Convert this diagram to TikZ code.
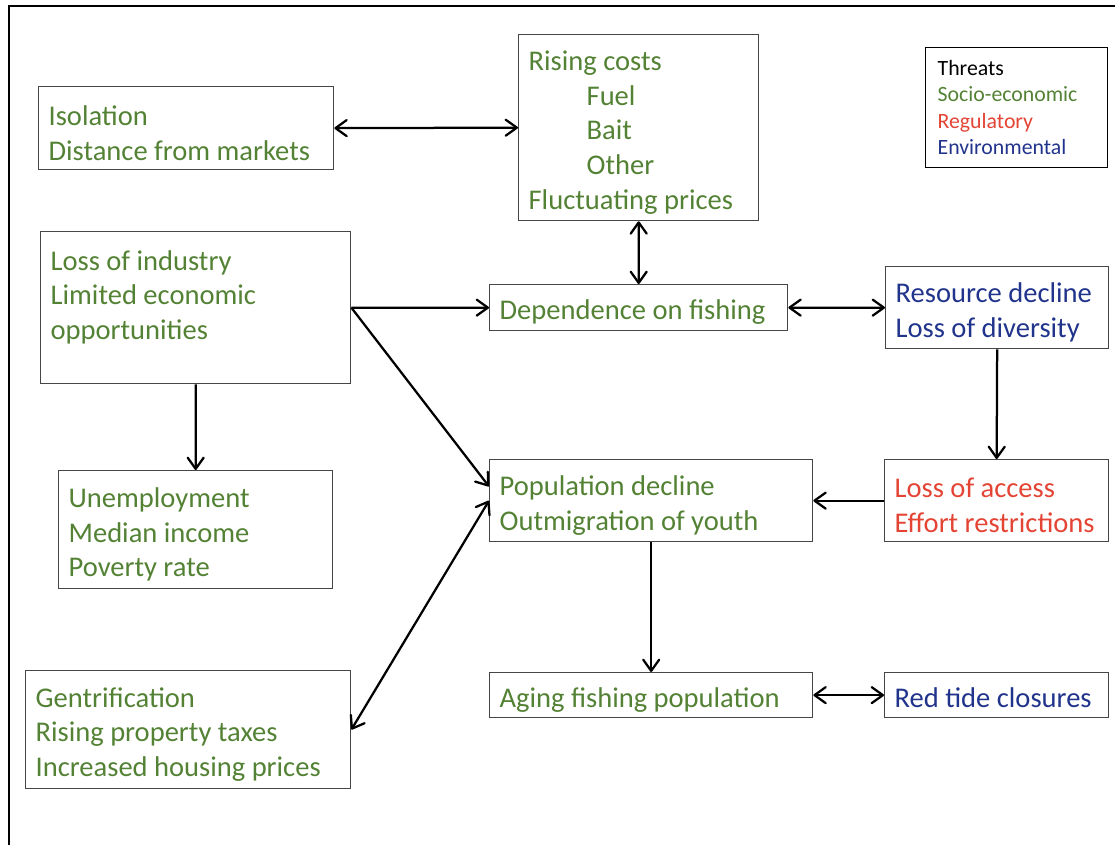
\documentclass[tikz,border=0pt]{standalone}
\usepackage{fontspec}
\setmainfont{Carlito}
\usetikzlibrary{arrows.meta}
\definecolor{socio}{RGB}{84,130,53}
\definecolor{regul}{RGB}{227,68,52}
\definecolor{envir}{RGB}{33,52,140}
\definecolor{boxgray}{RGB}{70,70,70}
\newcommand{\indentcost}{\hspace*{1.45cm}}
\tikzset{
  box/.style={draw=boxgray, line width=0.9pt, anchor=north west,
    align=flush left, inner xsep=0.25cm, inner ysep=0.1cm, text=socio,
    font=\fontsize{20.3}{24.8}\selectfont,
    execute at begin node={\rule{0pt}{21pt}}},
  keybox/.style={draw=black, line width=0.9pt, anchor=north west,
    align=flush left, inner xsep=0.3cm, inner ysep=0.1cm, text=black,
    font=\fontsize{15.5}{18.9}\selectfont},
  barb/.tip={Straight Barb[length=2.8mm,width=4mm,round]},
  link/.style={line width=1.6pt, -barb},
  twoway/.style={line width=1.6pt, barb-barb}
}

\begin{document}
\begin{tikzpicture}[x=0.025cm, y=-0.025cm]
  \useasboundingbox (0,0) rectangle (1115,845);
  \draw [line width=2pt] (9,845) -- (9,6) -- (1115,6);

  \node [box, text width=6.875cm, minimum height=2.075cm] (isol) at (38,86)
    {Isolation\\Distance from markets};
  \node [box, text width=5.5cm, minimum height=4.65cm] (costs) at (518,34)
    {Rising costs\\\indentcost Fuel\\\indentcost Bait\\\indentcost Other\\Fluctuating prices};
  \node [box, text width=7.25cm, minimum height=3.8cm] (loss) at (40,231)
    {Loss of industry\\Limited economic\\opportunities\\~};
  \node [box, text width=6.95cm, minimum height=1.15cm] (dep) at (489,284)
    {Dependence on fishing};
  \node [box, text=envir, text width=5.075cm, minimum height=2.05cm] (res) at (885,266)
    {Resource decline\\Loss of diversity};
  \node [box, text width=6.35cm, minimum height=2.95cm] (unemp) at (58,470)
    {Unemployment\\Median income\\Poverty rate};
  \node [box, text width=7.575cm, minimum height=2.05cm] (pop) at (489,459)
    {Population decline\\Outmigration of youth};
  \node [box, text=regul, text width=5.1cm, minimum height=2.05cm] (acc) at (884,459)
    {Loss of access\\Effort restrictions};
  \node [box, text width=7.625cm, minimum height=2.95cm] (gent) at (25,670)
    {Gentrification\\Rising property taxes\\Increased housing prices};
  \node [box, text width=7.575cm, minimum height=1.125cm] (aging) at (489,672)
    {Aging fishing population};
  \node [box, text=envir, text width=5.1cm, minimum height=1.125cm] (redt) at (884,672)
    {Red tide closures\vphantom{g}};
  \node [keybox, text width=3.95cm, minimum height=3.0cm] (key) at (925,47)
    {Threats\\\textcolor{socio}{Socio-economic}\\\textcolor{regul}{Regulatory}\\\textcolor{envir}{Environmental}};

  \draw [twoway] (isol.east) -- (costs.west);
  \draw [twoway] (costs.south) -- (dep.north);
  \draw [link] (loss.east) -- (dep.west);
  \draw [link] (loss.east) -- (pop.175);
  \draw [link] (loss.south) -- (unemp.north);
  \draw [twoway] (gent.east) -- (pop.west);
  \draw [twoway] (dep.east) -- (res.west);
  \draw [link] (res.south) -- (acc.north);
  \draw [link] (acc.west) -- (pop.east);
  \draw [link] (pop.south) -- (aging.north);
  \draw [twoway] (aging.east) -- (redt.west);
\end{tikzpicture}
\end{document}
